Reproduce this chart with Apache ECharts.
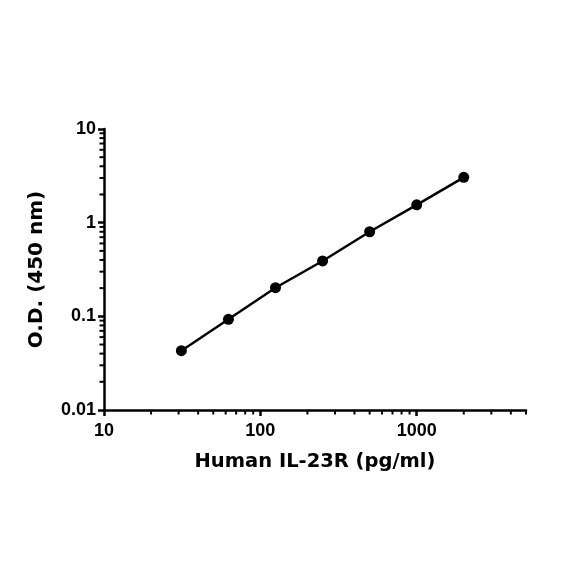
<!DOCTYPE html>
<html><head><meta charset="utf-8">
<script src="https://cdn.jsdelivr.net/npm/echarts@6/dist/echarts.min.js"></script>
<style>html,body{margin:0;padding:0;background:#fff}#c{width:584px;height:584px}</style>
</head><body><div id="c"></div>
<script>
const concentrations = [31.25, 62.5, 125, 250, 500, 1000, 2000];
const odValues = [0.043, 0.093, 0.202, 0.39, 0.80, 1.55, 3.05];
const xMajorTicks = [10, 100, 1000];
const yMajorTicks = [0.01, 0.1, 1, 10];
const xMinorTicks = [20,30,40,50,60,70,80,90,200,300,400,500,600,700,800,900,2000,3000,4000,5000];
const yMinorTicks = [0.02,0.03,0.04,0.05,0.06,0.07,0.08,0.09,0.2,0.3,0.4,0.5,0.6,0.7,0.8,0.9,2,3,4,5,6,7,8,9];

const chart = echarts.init(document.getElementById('c'));
const tickFont = {fontFamily:'Liberation Sans', fontWeight:'bold', fontSize:18, color:'#000'};
const titleFont = {fontFamily:'DejaVu Sans', fontWeight:'bold', fontSize:19.5, color:'#000'};
chart.setOption({
  animation:false,
  grid:{left:104, right:58, top:129, bottom:174},
  xAxis:{type:'log', logBase:10, min:10, max:5000,
    name:'Human IL-23R (pg/ml)', nameLocation:'middle', nameGap:42,
    nameTextStyle:titleFont,
    axisLine:{lineStyle:{color:'#000', width:2.5}},
    axisTick:{show:true, length:6, lineStyle:{color:'#000', width:2.5}, customValues:xMajorTicks},
    axisLabel:Object.assign({margin:12, customValues:xMajorTicks, formatter:v=>String(v)}, tickFont),
    splitLine:{show:false}},
  yAxis:{type:'log', logBase:10, min:0.01, max:10,
    name:'O.D. (450 nm)', nameLocation:'middle', nameGap:57,
    nameTextStyle:Object.assign({}, titleFont, {fontSize:20}),
    axisLine:{show:true, lineStyle:{color:'#000', width:2.5}},
    axisTick:{show:true, length:6, lineStyle:{color:'#000', width:2.5}, customValues:yMajorTicks},
    axisLabel:Object.assign({margin:8, customValues:yMajorTicks, formatter:v=>String(v)}, tickFont),
    splitLine:{show:false}},
  series:[
    {type:'custom', silent:true, clip:false, z:1,
     data:xMinorTicks.map(v=>[v]),
     encode:{x:0},
     renderItem:(params, api)=>{
       const p = api.coord([api.value(0), 0.01]);
       return {type:'line', shape:{x1:p[0], y1:p[1], x2:p[0], y2:p[1]+4.5}, style:{stroke:'#000', lineWidth:2}};
     }},
    {type:'custom', silent:true, clip:false, z:1,
     data:yMinorTicks.map(v=>[10, v]),
     encode:{x:0, y:1},
     renderItem:(params, api)=>{
       const p = api.coord([10, api.value(1)]);
       return {type:'line', shape:{x1:p[0], y1:p[1], x2:p[0]-4.5, y2:p[1]}, style:{stroke:'#000', lineWidth:2}};
     }},
    {type:'line', data:concentrations.map((c,i)=>[c, odValues[i]]),
     symbol:'circle', symbolSize:11, z:3,
     lineStyle:{color:'#000', width:2.5}, itemStyle:{color:'#000'}}
  ]
});
</script></body></html>
